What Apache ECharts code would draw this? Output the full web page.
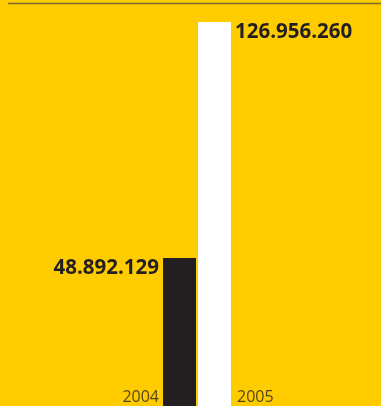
<!DOCTYPE html>
<html>
<head>
<meta charset="utf-8">
<style>
  html, body { margin: 0; padding: 0; background: #FFCC00; }
  #chart { width: 381px; height: 406px; }
</style>
<script src="https://cdn.jsdelivr.net/npm/echarts@6/dist/echarts.min.js"></script>
</head>
<body>
<div id="chart"></div>
<script>
// Yearly totals
const years = ['2004', '2005'];
const totals = [48892129, 126956260];
const barColors = ['#231F20', '#FFFFFF'];

// Thousands separated with dots
function fmt(n) {
  return String(n).replace(/\B(?=(\d{3})+(?!\d))/g, '.');
}

const chart = echarts.init(document.getElementById('chart'), null, { renderer: 'canvas' });

const valueLabel = {
  show: true,
  formatter: p => fmt(p.value),
  fontFamily: 'Open Sans',
  fontWeight: 'bold',
  fontSize: 20.5,
  color: '#231F20',
  verticalAlign: 'middle'
};

chart.setOption({
  backgroundColor: '#FFCC00',
  animation: false,
  grid: { left: 162, right: 149, top: 22, bottom: 0 },
  xAxis: {
    type: 'category',
    data: years,
    axisLine: { show: false },
    axisTick: { show: false },
    axisLabel: { show: false }
  },
  yAxis: {
    type: 'value',
    min: 0,
    max: v => v.max,
    show: false,
    splitLine: { show: false }
  },
  graphic: [{
    type: 'line',
    shape: { x1: 8, y1: 3.6, x2: 381, y2: 3.6 },
    style: { stroke: '#7C6A28', lineWidth: 1.5 }
  }],
  series: [
    {
      type: 'bar',
      barWidth: 33,
      data: totals.map((v, i) => ({
        value: v,
        itemStyle: { color: barColors[i] },
        label: i === 0
          ? Object.assign({}, valueLabel, { position: [-4, 10], align: 'right' })
          : Object.assign({}, valueLabel, { position: [37, 10.5], align: 'left' })
      }))
    },
    {
      type: 'scatter',
      symbolSize: 0,
      silent: true,
      data: years.map((y, i) => ({
        value: [y, 0],
        label: {
          show: true,
          formatter: y,
          fontFamily: 'Open Sans',
          fontSize: 16,
          color: '#231F20',
          position: 'inside',
          verticalAlign: 'middle',
          align: i === 0 ? 'right' : 'left',
          offset: i === 0 ? [-20.5, -9] : [22.5, -9]
        }
      }))
    }
  ]
});
</script>
</body>
</html>
